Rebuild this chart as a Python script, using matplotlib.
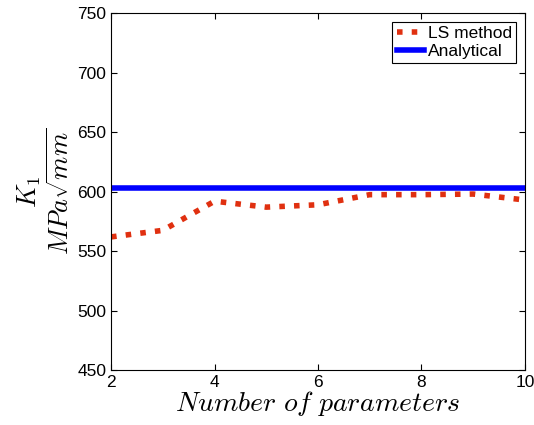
import numpy as np
import matplotlib.pyplot as plt

plt.rcParams['font.family'] = ['Liberation Sans', 'DejaVu Sans']
plt.rcParams['mathtext.fontset'] = 'cm'

# number of parameters in the LS fit and resulting K1
n_params = [2, 3, 4, 5, 6, 7, 8, 9, 10]
k1_ls = [562, 567.5, 592, 587, 589, 597.5, 597.5, 598, 593]
k1_analytical = 603

fig = plt.figure(figsize=(5.34, 4.25), dpi=100)
ax = fig.add_axes([0.208, 0.129, 0.775, 0.840])

ax.plot(n_params, k1_ls, ':', color='#e03010', linewidth=4, label='LS method')
ax.plot([n_params[0], n_params[-1]], [k1_analytical, k1_analytical], '-',
        color='#0000ff', linewidth=4, label='Analytical')

ax.set_xlim(2, 10)
ax.set_ylim(450, 750)
ax.set_xticks([2, 4, 6, 8, 10])
ax.set_yticks(np.arange(450, 751, 50))
ax.tick_params(direction='in', top=True, right=True, labelsize=12.5, length=4)

ax.set_xlabel(r'$Number\ of\ parameters$', fontsize=20, labelpad=-1)
ax.set_ylabel('$K_1$\n' + r'$MPa\sqrt{mm}$', fontsize=19, labelpad=2)

leg = ax.legend(loc='upper right', fontsize=12.5, fancybox=False, framealpha=1,
                edgecolor='black', handlelength=1.6, handletextpad=0.2,
                borderpad=0.25, labelspacing=0.15, borderaxespad=0.5)
leg.get_frame().set_linewidth(0.8)

fig.savefig('out.png', dpi=100)
